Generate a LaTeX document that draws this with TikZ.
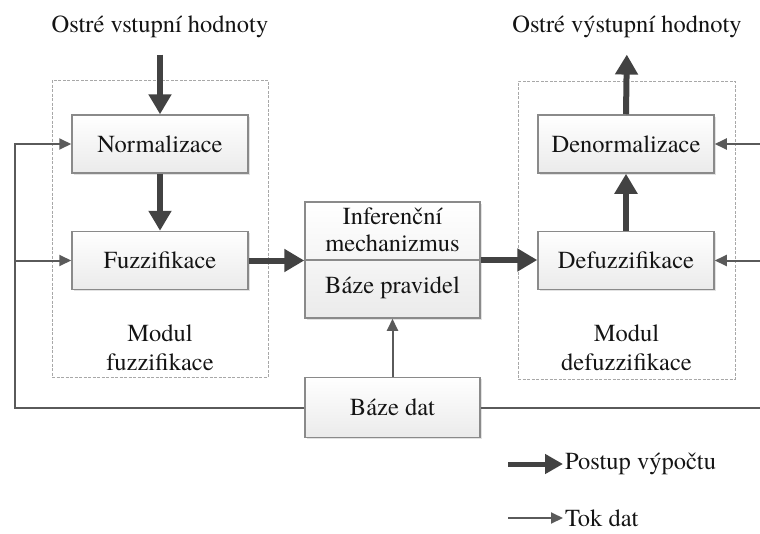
\documentclass[tikz,border=0pt]{standalone}
\usepackage{fontspec}
\setmainfont{texgyretermes}[Extension=.otf, UprightFont=*-regular, BoldFont=*-bold, ItalicFont=*-italic, BoldItalicFont=*-bolditalic]
\usetikzlibrary{arrows.meta,shadows}
\definecolor{thickc}{HTML}{424242}
\definecolor{thinc}{HTML}{5A5A5A}
\definecolor{boxline}{HTML}{8A8A8A}
\definecolor{modline}{HTML}{A8A8A8}
\definecolor{txt}{HTML}{141414}
\begin{document}
\begin{tikzpicture}[x=1pt,y=-1pt,
  every node/.style={text=txt},
  font=\rmfamily\fontsize{24.5}{27}\selectfont,
  stepbox/.style={draw=boxline, line width=1.5pt, top color=white, bottom color=gray!16,
    drop shadow={shadow xshift=1.8pt, shadow yshift=-1.8pt, fill=gray!45},
    minimum width=176pt, minimum height=58pt, inner sep=0pt},
  module/.style={draw=modline, line width=0.8pt, dash pattern=on 3pt off 1.5pt, inner sep=0pt},
  calc/.style={draw=thickc, line width=6pt, -{Triangle[length=20pt,width=22pt]}},
  flow/.style={draw=thinc, line width=2pt, -{Triangle[length=12pt,width=11pt]}},
  flowline/.style={draw=thinc, line width=2pt},
  modtext/.style={align=center, font=\rmfamily\fontsize{24.5}{29}\selectfont},
]
\useasboundingbox (0,0) rectangle (760,533);

% modules
\node[module, minimum width=216pt, minimum height=297pt] (modL) at (160,228.5) {};
\node[module, minimum width=217pt, minimum height=298pt] (modR) at (626.5,230) {};
\node[modtext] (modLt) at (160,347.5) {Modul\\fuzzifikace};
\node[modtext] (modRt) at (626.5,347.5) {Modul\\defuzzifikace};

% titles
\node (in) at (160,27) {Ostré vstupní hodnoty};
\node (out) at (627,27) {Ostré výstupní hodnoty};

% boxes
\node[stepbox] (norm) at (160,144) {Normalizace};
\node[stepbox] (fuzz) at (160,260.5) {Fuzzifikace};
\node[stepbox] (denorm) at (626,144) {Denormalizace};
\node[stepbox] (defuzz) at (626,260.5) {Defuzzifikace};
\node[stepbox, minimum width=175pt, minimum height=116pt] (infer) at (392.5,260) {};
\draw[boxline, line width=1.5pt] (infer.west) -- (infer.east);
\node[align=center] (inferA) at (392.5,230) {Inferenční\\mechanizmus};
\node (inferB) at (392.5,288) {Báze pravidel};
\node[stepbox, minimum width=175pt, minimum height=60pt] (dat) at (392.5,407.5) {Báze dat};

% computation flow
\draw[calc, shorten <=13pt] (in.south) -- (norm.north);
\draw[calc] (norm.south) -- (fuzz.north);
\draw[calc] (fuzz.east) -- (fuzz.east -| infer.west);
\draw[calc] (infer.east) -- (infer.east -| defuzz.west);
\draw[calc] (defuzz.north) -- (denorm.south);
\draw[calc, shorten >=13pt] (denorm.north) -- (out.south);

% data flow
\coordinate (L1) at (15,144);
\coordinate (L2) at (15,260.5);
\coordinate (L3) at (15,407.5);
\coordinate (R1) at (760,144);
\coordinate (R2) at (760,260.5);
\coordinate (R3) at (760,407.5);
\draw[flow] (dat.west) -- (L3) -- (L1) -- (norm.west);
\draw[flow] (L2) -- (fuzz.west);
\draw[flowline] (dat.east) -- (R3);
\draw[flow] (R1) -- (denorm.east);
\draw[flow] (R2) -- (defuzz.east);
\draw[flow] (dat.north) -- (infer.south);

% legend
\node[anchor=west, inner sep=2pt] (lp) at (563,464) {Postup výpočtu};
\node[anchor=west, inner sep=2pt] (lt) at (563,518) {Tok dat};
\coordinate (lpa) at (508,464);
\coordinate (lta) at (508,518);
\draw[calc, line width=5pt, -{Triangle[length=18pt,width=19pt]}] (lpa) -- (lp.west);
\draw[flow] (lta) -- (lt.west);
\end{tikzpicture}
\end{document}
